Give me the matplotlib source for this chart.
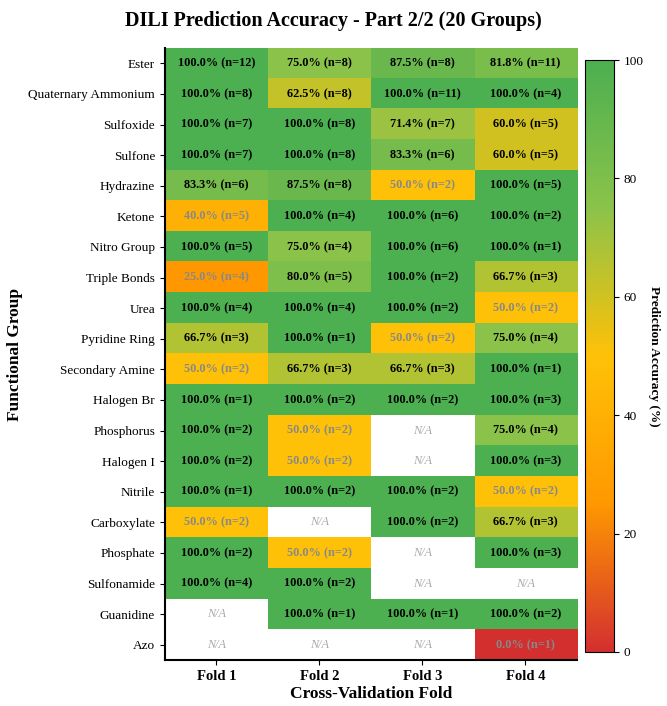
import numpy as np
import matplotlib
matplotlib.use("Agg")
import matplotlib.pyplot as plt
from matplotlib.colors import LinearSegmentedColormap

plt.rcParams['font.family'] = ['Liberation Serif', 'DejaVu Serif']

groups = ["Ester", "Quaternary Ammonium", "Sulfoxide", "Sulfone", "Hydrazine", "Ketone",
          "Nitro Group", "Triple Bonds", "Urea", "Pyridine Ring", "Secondary Amine",
          "Halogen Br", "Phosphorus", "Halogen I", "Nitrile", "Carboxylate", "Phosphate",
          "Sulfonamide", "Guanidine", "Azo"]
folds = ["Fold 1", "Fold 2", "Fold 3", "Fold 4"]
nan = np.nan
accuracy = [
    [100.0, 75.0, 87.5, 81.8],
    [100.0, 62.5, 100.0, 100.0],
    [100.0, 100.0, 71.4, 60.0],
    [100.0, 100.0, 83.3, 60.0],
    [83.3, 87.5, 50.0, 100.0],
    [40.0, 100.0, 100.0, 100.0],
    [100.0, 75.0, 100.0, 100.0],
    [25.0, 80.0, 100.0, 66.7],
    [100.0, 100.0, 100.0, 50.0],
    [66.7, 100.0, 50.0, 75.0],
    [50.0, 66.7, 66.7, 100.0],
    [100.0, 100.0, 100.0, 100.0],
    [100.0, 50.0, nan, 75.0],
    [100.0, 50.0, nan, 100.0],
    [100.0, 100.0, 100.0, 50.0],
    [50.0, nan, 100.0, 66.7],
    [100.0, 50.0, nan, 100.0],
    [100.0, 100.0, nan, nan],
    [nan, 100.0, 100.0, 100.0],
    [nan, nan, nan, 0.0],
]
counts = [
    [12, 8, 8, 11],
    [8, 8, 11, 4],
    [7, 8, 7, 5],
    [7, 8, 6, 5],
    [6, 8, 2, 5],
    [5, 4, 6, 2],
    [5, 4, 6, 1],
    [4, 5, 2, 3],
    [4, 4, 2, 2],
    [3, 1, 2, 4],
    [2, 3, 3, 1],
    [1, 2, 2, 3],
    [2, 2, 0, 4],
    [2, 2, 0, 3],
    [1, 2, 2, 2],
    [2, 0, 2, 3],
    [2, 2, 0, 3],
    [4, 2, 0, 0],
    [0, 1, 1, 2],
    [0, 0, 0, 1],
]

acc = np.array(accuracy, dtype=float)
cnt = np.array(counts)

cmap = LinearSegmentedColormap.from_list(
    "dili", ["#d32f2f", "#ff9800", "#ffc107", "#8bc34a", "#4caf50"])
cmap.set_bad("white")

fig = plt.figure(figsize=(6.67, 7.06), dpi=100)
ax = fig.add_axes([0.247, 0.065, 0.618, 0.867])
cax = fig.add_axes([0.877, 0.0765, 0.0435, 0.8385])

im = ax.imshow(np.ma.masked_invalid(acc), cmap=cmap, vmin=0, vmax=100,
               aspect="auto", interpolation="nearest")

for i in range(acc.shape[0]):
    for j in range(acc.shape[1]):
        v = acc[i, j]
        if np.isnan(v):
            ax.text(j, i, "N/A", ha="center", va="center", fontsize=8.8,
                    style="italic", color="#aaaaaa")
        else:
            col = "black" if v >= 60 else "#888888"
            ax.text(j, i, f"{v:.1f}% (n={cnt[i, j]})", ha="center", va="center",
                    fontsize=8.8, fontweight="bold", color=col)

ax.set_xticks(range(len(folds)))
ax.set_xticklabels(folds, fontsize=10.5, fontweight="bold")
ax.set_yticks(range(len(groups)))
ax.set_yticklabels(groups, fontsize=9.5)
ax.spines["top"].set_visible(False)
ax.spines["right"].set_visible(False)
ax.spines["left"].set_linewidth(1.5)
ax.spines["bottom"].set_linewidth(1.5)
ax.set_xlabel("Cross-Validation Fold", fontsize=12.5, fontweight="bold", labelpad=2)
ax.set_ylabel("Functional Group", fontsize=12.5, fontweight="bold", labelpad=4)

cb = fig.colorbar(im, cax=cax)
cb.set_ticks([0, 20, 40, 60, 80, 100])
cb.ax.tick_params(labelsize=9.5)
cb.set_label("Prediction Accuracy (%)", rotation=270, labelpad=12,
             fontsize=9.5, fontweight="bold")

fig.suptitle("DILI Prediction Accuracy - Part 2/2 (20 Groups)", fontsize=14.5,
             fontweight="bold", y=0.985)

fig.savefig("out.png", dpi=100)
